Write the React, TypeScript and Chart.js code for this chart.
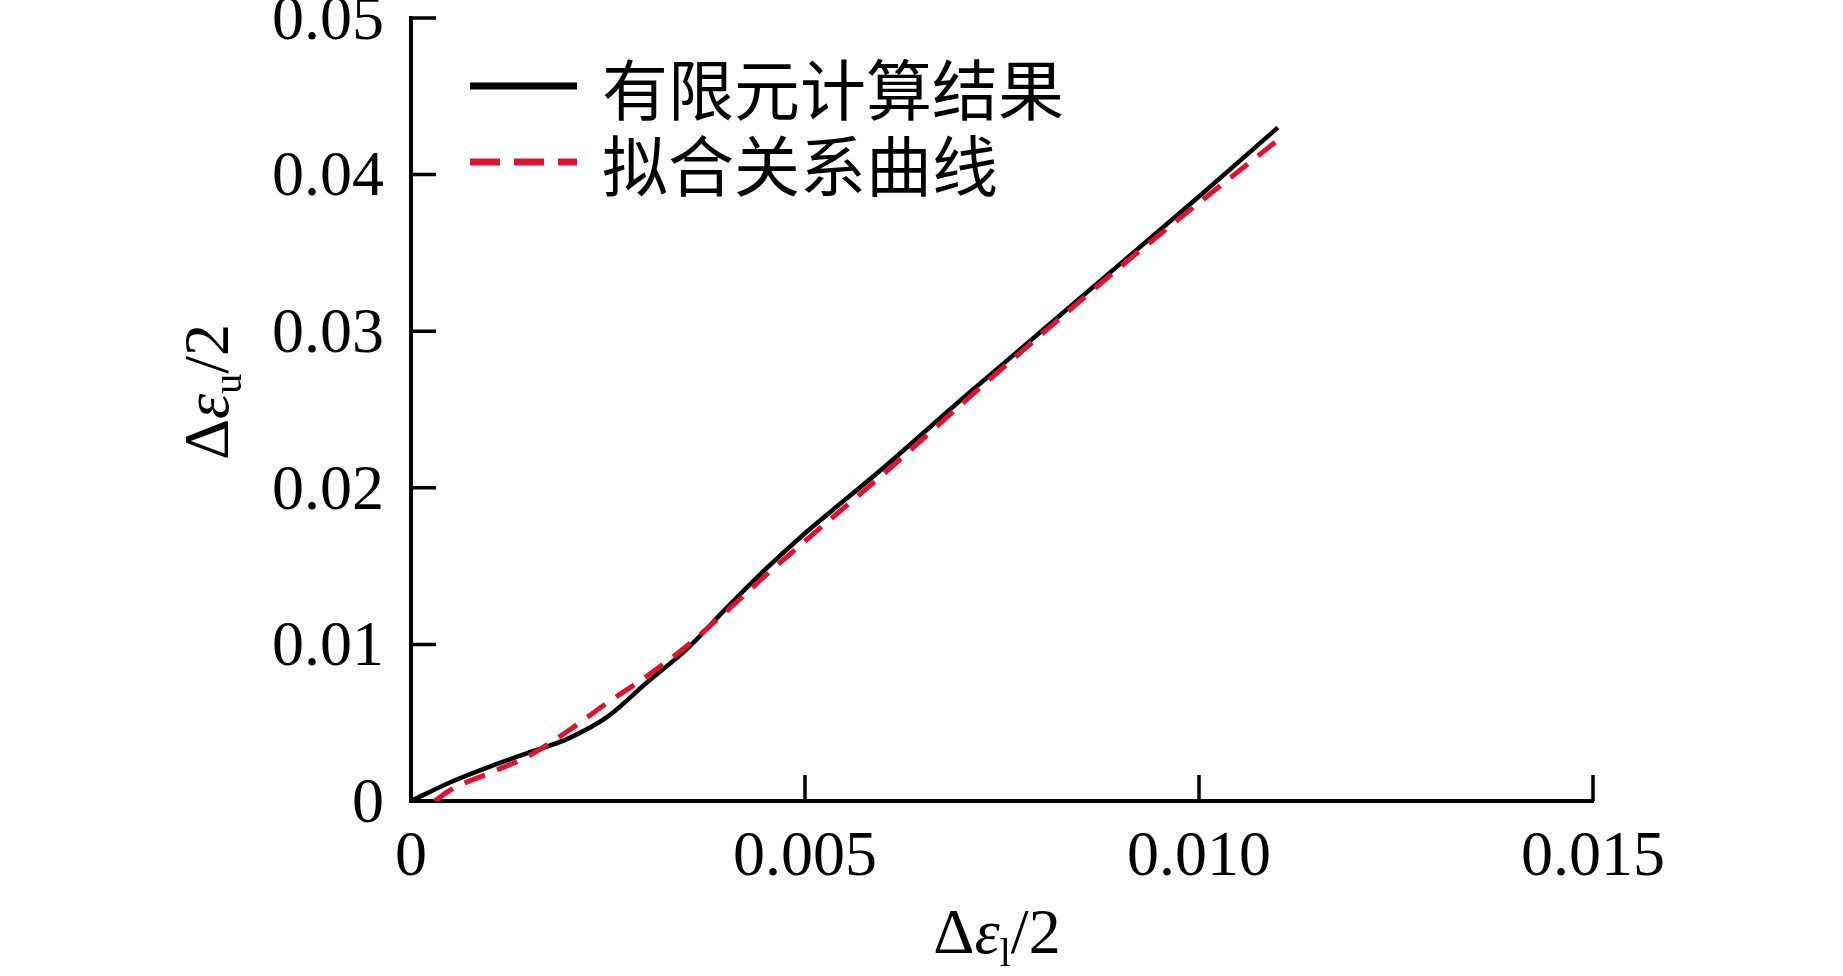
import React, { useEffect, useRef } from 'react';
import { Chart, registerables } from 'chart.js';

Chart.register(...registerables);

// ---- data ----
const seriesNames = ['有限元计算结果', '拟合关系曲线'];

const femX = [0, 0.0005, 0.001, 0.0015, 0.002, 0.0025, 0.003, 0.0035, 0.004, 0.0045, 0.005, 0.0055, 0.006, 0.007, 0.008, 0.009, 0.010, 0.011];
const femY = [0, 0.0012, 0.0022, 0.0031, 0.0040, 0.0054, 0.0076, 0.0097, 0.0123, 0.0148, 0.0171, 0.0192, 0.0213, 0.0257, 0.0300, 0.0343, 0.0386, 0.0430];

const fitX = [0.0003, 0.0005, 0.001, 0.0015, 0.002, 0.0025, 0.003, 0.0035, 0.004, 0.0045, 0.005, 0.006, 0.007, 0.008, 0.009, 0.010, 0.011];
const fitY = [0, 0.0007, 0.0018, 0.0029, 0.0045, 0.0063, 0.0080, 0.0099, 0.0121, 0.0144, 0.0166, 0.0209, 0.0254, 0.0298, 0.0341, 0.0382, 0.0422];

const xTickValues = [0, 0.005, 0.010, 0.015];
const xTickLabels = ['0', '0.005', '0.010', '0.015'];
const yTickValues = [0, 0.01, 0.02, 0.03, 0.04, 0.05];
const yTickLabels = ['0', '0.01', '0.02', '0.03', '0.04', '0.05'];

const xTitleParts = [
  { text: 'Δ' },
  { text: 'ε', italic: true },
  { text: 'l', sub: true },
  { text: '/2' },
];
const yTitleParts = [
  { text: 'Δ' },
  { text: 'ε', italic: true },
  { text: 'u', sub: true },
  { text: '/2' },
];

// ---- styling ----
const SERIF = "'Liberation Serif', 'Times New Roman', serif";
const CJK = "'Noto Sans CJK SC', 'Noto Sans CJK JP', sans-serif";
const RED = 'rgb(226, 18, 46)';

function drawMathLabel(ctx: CanvasRenderingContext2D, parts: any[], cx: number, baseY: number, size: number) {
  const fontFor = (p: any) => `${p.italic ? 'italic ' : ''}${p.sub ? Math.round(size * 0.62) : size}px ${SERIF}`;
  let total = 0;
  for (const p of parts) {
    ctx.font = fontFor(p);
    total += ctx.measureText(p.text).width;
  }
  let x = cx - total / 2;
  ctx.textAlign = 'left';
  ctx.textBaseline = 'alphabetic';
  ctx.fillStyle = '#000';
  for (const p of parts) {
    ctx.font = fontFor(p);
    ctx.fillText(p.text, x, baseY + (p.sub ? size * 0.2 : 0));
    x += ctx.measureText(p.text).width;
  }
}

const decorPlugin = {
  id: 'decor',
  afterDraw(chart: any) {
    const ctx: CanvasRenderingContext2D = chart.ctx;
    const area = chart.chartArea;
    const xs = chart.scales.x;
    const ys = chart.scales.y;
    ctx.save();
    // inside tick marks
    ctx.strokeStyle = '#000';
    ctx.lineWidth = 3.5;
    ctx.lineCap = 'butt';
    ctx.beginPath();
    yTickValues.forEach((v) => {
      if (v === 0) return;
      const py = ys.getPixelForValue(v);
      ctx.moveTo(area.left, py);
      ctx.lineTo(area.left + 25, py);
    });
    xTickValues.forEach((v) => {
      if (v === 0) return;
      const px = xs.getPixelForValue(v);
      ctx.moveTo(px, area.bottom);
      ctx.lineTo(px, area.bottom - 26);
    });
    ctx.stroke();

    // legend
    chart.data.datasets.forEach((ds: any, i: number) => {
      const y = area.top + 68 + i * 76;
      ctx.beginPath();
      ctx.strokeStyle = ds.borderColor;
      ctx.lineWidth = 7;
      ctx.setLineDash(i === 0 ? [] : [30, 14]);
      ctx.moveTo(area.left + 59, y);
      ctx.lineTo(area.left + 166, y);
      ctx.stroke();
      ctx.setLineDash([]);
      ctx.fillStyle = '#000';
      ctx.font = `66px ${CJK}`;
      ctx.textAlign = 'left';
      ctx.textBaseline = 'middle';
      ctx.fillText(ds.label, area.left + 191, y + 4);
    });

    // axis titles
    drawMathLabel(ctx, xTitleParts, (area.left + area.right) / 2 - 5, area.bottom + 152, 64);
    ctx.translate(area.left - 183, area.top + 374);
    ctx.rotate(-Math.PI / 2);
    drawMathLabel(ctx, yTitleParts, 0, 0, 64);
    ctx.restore();
  },
};

export default function App() {
  const ref = useRef<HTMLCanvasElement | null>(null);

  useEffect(() => {
    if (!ref.current) return;
    const chart = new Chart(ref.current, {
      type: 'scatter',
      data: {
        datasets: [
          {
            label: seriesNames[0],
            data: femX.map((x, i) => ({ x, y: femY[i] })),
            showLine: true,
            borderColor: '#000',
            backgroundColor: '#000',
            borderWidth: 4.5,
            pointRadius: 0,
            cubicInterpolationMode: 'monotone',
            order: 1,
          },
          {
            label: seriesNames[1],
            data: fitX.map((x, i) => ({ x, y: fitY[i] })),
            showLine: true,
            borderColor: RED,
            backgroundColor: RED,
            borderWidth: 5,
            borderDash: [22, 13],
            pointRadius: 0,
            cubicInterpolationMode: 'monotone',
            order: 0,
          },
        ],
      },
      options: {
        animation: false,
        responsive: false,
        devicePixelRatio: 1,
        layout: { padding: { top: 18, right: 250, left: 0, bottom: 0 } },
        plugins: {
          legend: { display: false },
          tooltip: { enabled: false },
          title: { display: false },
        },
        scales: {
          x: {
            type: 'linear',
            min: 0,
            max: 0.015,
            afterBuildTicks: (scale: any) => {
              scale.ticks = xTickValues.map((v) => ({ value: v }));
            },
            afterFit: (scale: any) => {
              scale.height = 175;
              scale.paddingLeft = 0;
              scale.paddingRight = 0;
            },
            ticks: {
              autoSkip: false,
              maxRotation: 0,
              padding: 19,
              color: '#000',
              font: { family: SERIF, size: 64 },
              callback: (_v: any, i: number) => xTickLabels[i],
            },
            grid: { drawOnChartArea: false, drawTicks: false },
            border: { display: true, color: '#000', width: 4 },
          },
          y: {
            type: 'linear',
            min: 0,
            max: 0.05,
            afterBuildTicks: (scale: any) => {
              scale.ticks = yTickValues.map((v) => ({ value: v }));
            },
            afterFit: (scale: any) => {
              scale.width = 411;
              scale.paddingTop = 0;
              scale.paddingBottom = 0;
            },
            ticks: {
              autoSkip: false,
              padding: 27,
              labelOffset: 4,
              color: '#000',
              font: { family: SERIF, size: 64 },
              callback: (_v: any, i: number) => yTickLabels[i],
            },
            grid: { drawOnChartArea: false, drawTicks: false },
            border: { display: true, color: '#000', width: 4 },
          },
        },
      },
      plugins: [decorPlugin],
    } as any);
    return () => chart.destroy();
  }, []);

  return (
    <div style={{ position: 'absolute', left: 0, top: 0, width: 1843, height: 976, background: '#fff' }}>
      <canvas ref={ref} width={1843} height={976} style={{ display: 'block' }} />
    </div>
  );
}
